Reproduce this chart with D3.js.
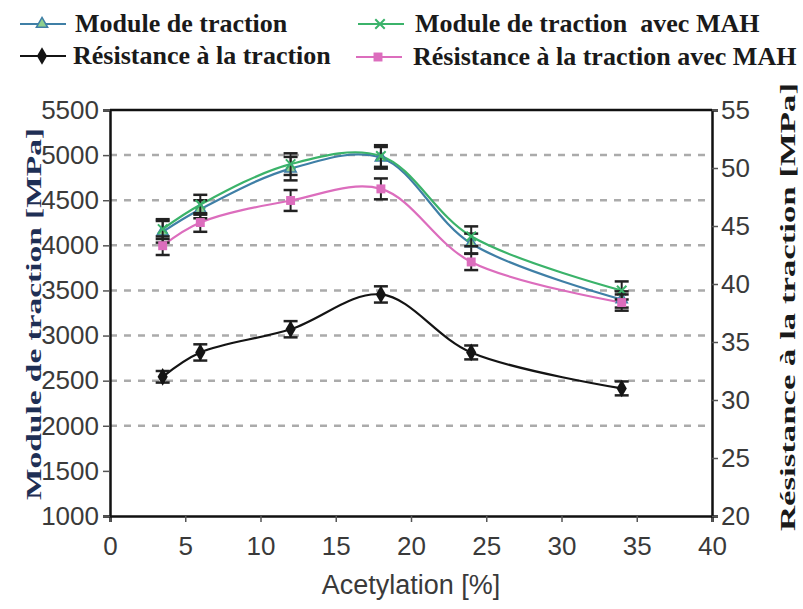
<!DOCTYPE html>
<html>
<head>
<meta charset="utf-8">
<script src="https://cdn.jsdelivr.net/npm/d3@7"></script>
<style>
  body { margin: 0; background: #fff; }
  svg { display: block; }
</style>
</head>
<body>
<div id="chart"></div>
<script>
// Acetylation levels [%]
const acetylation = [3.5, 6, 12, 18, 24, 34];

// Module de traction [MPa] (left axis)
const moduleTraction = [4150, 4400, 4850, 4970, 4020, 3400];
const moduleTractionErr = [120, 100, 130, 120, 110, 90];
const moduleMAH = [4180, 4450, 4900, 4990, 4100, 3500];
const moduleMAHErr = [110, 110, 120, 120, 110, 100];

// Résistance à la traction [MPa] (right axis)
const resistance = [32.0, 34.1, 36.1, 39.1, 34.1, 31.0];
const resistanceErr = [0.5, 0.7, 0.7, 0.7, 0.6, 0.6];
const resistanceMAH = [43.3, 45.3, 47.2, 48.2, 41.9, 38.4];
const resistanceMAHErr = [0.8, 0.8, 0.9, 0.9, 0.7, 0.7];

const xTicks = [0, 5, 10, 15, 20, 25, 30, 35, 40];
const leftTicks = [1000, 1500, 2000, 2500, 3000, 3500, 4000, 4500, 5000, 5500];
const rightTicks = [20, 25, 30, 35, 40, 45, 50, 55];
const gridValues = [2000, 2500, 3000, 3500, 4000, 4500, 5000];

// Set up the dimensions and margins
const margin = { top: 110, right: 91, bottom: 93, left: 110 };
const fullW = 803, fullH = 609;
const width = fullW - margin.left - margin.right;
const height = fullH - margin.top - margin.bottom;

const svg = d3.select("#chart")
    .append("svg")
    .attr("width", fullW)
    .attr("height", fullH);

const g = svg.append("g")
    .attr("transform", `translate(${margin.left},${margin.top})`);

// Scales
const x = d3.scaleLinear().domain([0, 40]).range([0, width]);
const yL = d3.scaleLinear().domain([1000, 5500]).range([height, 0]);
const yR = d3.scaleLinear().domain([20, 55]).range([height, 0]);

// Dashed gridlines
g.selectAll(".grid")
    .data(gridValues)
    .enter()
    .append("line")
    .attr("x1", 0)
    .attr("x2", width)
    .attr("y1", d => yL(d))
    .attr("y2", d => yL(d))
    .attr("stroke", "#ababab")
    .attr("stroke-width", 2.5)
    .attr("stroke-dasharray", "7,7");

// Axes
const tickFont = "'Liberation Sans', Arial, sans-serif";

const xAxis = g.append("g")
    .attr("transform", `translate(0,${height})`)
    .call(d3.axisBottom(x).tickValues(xTicks).tickSize(6).tickPadding(15));

const leftAxis = g.append("g")
    .call(d3.axisLeft(yL).tickValues(leftTicks).tickFormat(d3.format("d")).tickSize(7).tickPadding(4));

const rightAxis = g.append("g")
    .attr("transform", `translate(${width},0)`)
    .call(d3.axisRight(yR).tickValues(rightTicks).tickSize(6).tickPadding(3));

[xAxis, leftAxis, rightAxis].forEach(a => {
    a.select(".domain").attr("stroke", "#111").attr("stroke-width", 2.5);
    a.selectAll(".tick line").attr("stroke", "#555").attr("stroke-width", 1.5);
    a.selectAll(".tick text")
        .attr("font-family", tickFont)
        .attr("font-size", "26px")
        .attr("fill", "#3a3a3a");
});

// Top border
g.append("line")
    .attr("x1", 0).attr("x2", width)
    .attr("y1", 0).attr("y2", 0)
    .attr("stroke", "#111")
    .attr("stroke-width", 2.5);

// Series definitions
const series = [
    { name: "Module de traction", vals: moduleTraction, err: moduleTractionErr, y: yL, color: "#3f7fa6", marker: "triangle" },
    { name: "Module de traction  avec MAH", vals: moduleMAH, err: moduleMAHErr, y: yL, color: "#3bb36a", marker: "cross" },
    { name: "Résistance à la traction avec MAH", vals: resistanceMAH, err: resistanceMAHErr, y: yR, color: "#dc6dbd", marker: "square" },
    { name: "Résistance à la traction", vals: resistance, err: resistanceErr, y: yR, color: "#141414", marker: "diamond" }
];

function drawMarker(sel, type, color) {
    if (type === "triangle") {
        sel.append("path")
            .attr("d", d3.symbol().type(d3.symbolTriangle).size(55)())
            .attr("fill", "#8fd08f")
            .attr("stroke", color)
            .attr("stroke-width", 1.5);
    } else if (type === "cross") {
        sel.append("path")
            .attr("d", d3.symbol().type(d3.symbolX).size(60)())
            .attr("fill", "none")
            .attr("stroke", color)
            .attr("stroke-width", 2);
    } else if (type === "square") {
        sel.append("path")
            .attr("d", d3.symbol().type(d3.symbolSquare).size(80)())
            .attr("fill", color);
    } else {
        sel.append("path")
            .attr("d", d3.symbol().type(d3.symbolDiamond).size(90)())
            .attr("fill", color);
    }
}

const line = (yScale) => d3.line()
    .x((d, i) => x(acetylation[i]))
    .y(d => yScale(d))
    .curve(d3.curveCatmullRom.alpha(0.5));

series.forEach(s => {
    g.append("path")
        .datum(s.vals)
        .attr("fill", "none")
        .attr("stroke", s.color)
        .attr("stroke-width", 2.2)
        .attr("d", line(s.y));
});

series.forEach(s => {
    const pts = g.selectAll(null)
        .data(s.vals.map((v, i) => ({ x: acetylation[i], v: v, e: s.err[i] })))
        .enter()
        .append("g");

    // Error bars
    pts.append("line")
        .attr("x1", d => x(d.x)).attr("x2", d => x(d.x))
        .attr("y1", d => s.y(d.v - d.e)).attr("y2", d => s.y(d.v + d.e))
        .attr("stroke", "#222").attr("stroke-width", 2);
    pts.append("line")
        .attr("x1", d => x(d.x) - 7).attr("x2", d => x(d.x) + 7)
        .attr("y1", d => s.y(d.v + d.e)).attr("y2", d => s.y(d.v + d.e))
        .attr("stroke", "#222").attr("stroke-width", 2.5);
    pts.append("line")
        .attr("x1", d => x(d.x) - 7).attr("x2", d => x(d.x) + 7)
        .attr("y1", d => s.y(d.v - d.e)).attr("y2", d => s.y(d.v - d.e))
        .attr("stroke", "#222").attr("stroke-width", 2.5);

    pts.each(function (d) {
        const m = d3.select(this).append("g")
            .attr("transform", `translate(${x(d.x)},${s.y(d.v)})`);
        drawMarker(m, s.marker, s.color);
    });
});

// Legend
const legendFont = "'Liberation Serif', 'Times New Roman', serif";
const legendItems = [
    { s: series[0], lx: 20, ly: 24, tx: 75 },
    { s: series[1], lx: 358, ly: 24, tx: 415 },
    { s: series[3], lx: 20, ly: 56, tx: 73 },
    { s: series[2], lx: 356, ly: 57, tx: 413 }
];

legendItems.forEach(it => {
    const lg = svg.append("g");
    lg.append("line")
        .attr("x1", it.lx).attr("x2", it.lx + 46)
        .attr("y1", it.ly).attr("y2", it.ly)
        .attr("stroke", it.s.color)
        .attr("stroke-width", 2);
    const m = lg.append("g").attr("transform", `translate(${it.lx + 22},${it.ly})`);
    drawMarker(m, it.s.marker, it.s.color);
    lg.append("text")
        .attr("x", it.tx)
        .attr("y", it.ly + 8)
        .attr("font-family", legendFont)
        .attr("font-weight", "bold")
        .attr("font-size", "26px")
        .attr("fill", "#1a1a1a")
        .style("white-space", "pre")
        .text(it.s.name);
});

// X-axis label
svg.append("text")
    .attr("x", margin.left + width / 2)
    .attr("y", 594)
    .attr("text-anchor", "middle")
    .attr("font-family", tickFont)
    .attr("font-size", "27px")
    .attr("fill", "#3a3a3a")
    .text("Acetylation [%]");

// Left y-axis label
svg.append("text")
    .attr("transform", "translate(41,314) rotate(-90)")
    .attr("text-anchor", "middle")
    .attr("font-family", legendFont)
    .attr("font-weight", "bold")
    .attr("font-size", "21px")
    .attr("fill", "#1f2f55")
    .attr("textLength", 372)
    .attr("lengthAdjust", "spacingAndGlyphs")
    .text("Module de traction [MPa]");

// Right y-axis label
svg.append("text")
    .attr("transform", "translate(795,307) rotate(-90)")
    .attr("text-anchor", "middle")
    .attr("font-family", legendFont)
    .attr("font-weight", "bold")
    .attr("font-size", "21px")
    .attr("fill", "#1a1a1a")
    .attr("textLength", 448)
    .attr("lengthAdjust", "spacingAndGlyphs")
    .text("Résistance à la traction [MPa]");
</script>
</body>
</html>
